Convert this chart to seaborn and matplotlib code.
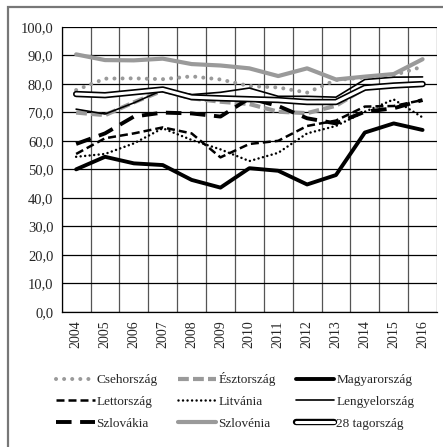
import numpy as np
import pandas as pd
import matplotlib
matplotlib.use("Agg")
import matplotlib.pyplot as plt
import matplotlib.patheffects as pe
from matplotlib.lines import Line2D
from matplotlib.patches import Rectangle
import seaborn as sns

years = list(range(2004, 2017))

csehorszag = [77.8, 81.8, 81.9, 81.6, 82.6, 81.5, 79.2, 78.7, 76.9, 81.3, 82.2, 83.0, 86.0]
esztorszag = [69.9, 69.0, 73.5, 77.6, 74.9, 73.7, 72.9, 70.2, 69.7, 72.3, 78.4, 79.4, 79.6]
magyarorszag = [50.0, 54.4, 52.1, 51.5, 46.3, 43.6, 50.4, 49.5, 44.7, 48.0, 62.9, 66.1, 63.8]
lettorszag = [55.4, 60.9, 62.6, 64.7, 62.6, 54.2, 58.9, 60.0, 65.2, 67.1, 72.0, 72.2, 74.3]
litvania = [54.4, 55.4, 59.1, 64.4, 60.3, 57.0, 52.9, 55.8, 62.6, 65.2, 70.2, 74.5, 68.2]
lengyelorszag = [71.1, 69.4, 73.3, 77.8, 76.2, 77.0, 78.5, 75.6, 75.6, 75.3, 81.5, 82.3, 82.4]
szlovakia = [58.9, 62.6, 68.5, 69.9, 69.6, 68.5, 74.9, 72.2, 67.9, 66.1, 70.2, 71.4, 74.3]
szlovenia = [90.3, 88.3, 88.2, 88.8, 86.9, 86.4, 85.4, 82.7, 85.4, 81.5, 82.5, 83.4, 88.6]
eu28 = [76.4, 76.0, 77.0, 78.0, 75.3, 74.9, 74.6, 74.3, 73.6, 73.6, 78.6, 79.4, 79.9]

gray = "#9a9a9a"
styles = {
    "Csehország": dict(color=gray, lw=2.9, ls=(0, (0.01, 2.0)), dash_capstyle="round"),
    "Észtország": dict(color=gray, lw=3.0, ls=(0, (2.6, 1.0))),
    "Magyarország": dict(color="black", lw=2.8, ls="-"),
    "Lettország": dict(color="black", lw=1.8, ls=(0, (3.2, 1.6))),
    "Litvánia": dict(color="black", lw=1.8, ls=(0, (0.01, 1.8)), dash_capstyle="round"),
    "Lengyelország": dict(color="black", lw=1.2, ls="-"),
    "Szlovákia": dict(color="black", lw=2.8, ls=(0, (4.0, 2.2))),
    "Szlovénia": dict(color=gray, lw=3.0, ls="-"),
}
series = {
    "Csehország": csehorszag,
    "Észtország": esztorszag,
    "Magyarország": magyarorszag,
    "Lettország": lettorszag,
    "Litvánia": litvania,
    "Lengyelország": lengyelorszag,
    "Szlovákia": szlovakia,
    "Szlovénia": szlovenia,
    "28 tagország": eu28,
}

sns.set_style("white")
plt.rcParams["font.family"] = ["Liberation Serif", "DejaVu Serif"]

fig = plt.figure(figsize=(4.43, 4.47), dpi=100)
ax = fig.add_axes([61.7 / 443, 1 - 312 / 447, (437 - 61.7) / 443, (312 - 26.7) / 447])

double_fx = [pe.Stroke(linewidth=4.6, foreground="black"), pe.Normal()]
handles = {}
for name, vals in series.items():
    df = pd.DataFrame({"year": years, "value": vals})
    if name == "28 tagország":
        sns.lineplot(data=df, x="year", y="value", ax=ax, color="white", lw=2.2,
                     path_effects=double_fx, zorder=3)
        handles[name] = Line2D([], [], color="white", lw=2.2, path_effects=double_fx)
    else:
        st = styles[name]
        sns.lineplot(data=df, x="year", y="value", ax=ax, color=st["color"], lw=st["lw"],
                     linestyle=st["ls"], dash_capstyle=st.get("dash_capstyle", "butt"), zorder=3)
        handles[name] = Line2D([], [], color=st["color"], lw=st["lw"], linestyle=st["ls"],
                               dash_capstyle=st.get("dash_capstyle", "butt"))

ax.set_xlim(2003.5, 2016.5)
ax.set_ylim(0, 100)
ax.set_xticks(years)
ax.set_xticklabels([str(y) for y in years], rotation=90, fontsize=10)
ax.set_xticks(np.arange(2003.5, 2017, 1), minor=True)
ax.set_yticks(np.arange(0, 101, 10))
ax.set_yticklabels([f"{v:.1f}".replace(".", ",") for v in np.arange(0, 101, 10)], fontsize=10.5)
ax.tick_params(axis="x", which="major", length=0, pad=6)
ax.tick_params(axis="x", which="minor", length=4, color="black", width=0.8)
ax.tick_params(axis="y", length=4, color="black", width=0.8, pad=2)
ax.grid(axis="y", which="major", color="black", lw=0.9)
ax.grid(axis="x", which="minor", color="#555555", lw=0.9)
ax.set_axisbelow(True)
for s in ["top", "right"]:
    ax.spines[s].set_visible(False)
for s in ["left", "bottom"]:
    ax.spines[s].set_color("black")
    ax.spines[s].set_linewidth(0.9)
ax.set_xlabel("")
ax.set_ylabel("")

order = ["Csehország", "Lettország", "Szlovákia",
         "Észtország", "Litvánia", "Szlovénia",
         "Magyarország", "Lengyelország", "28 tagország"]
fig.legend([handles[n] for n in order], order, ncol=3, loc="upper left",
           bbox_to_anchor=(51 / 443, 1 - 367 / 447), frameon=False, fontsize=9.5,
           handlelength=2.9, handletextpad=0.15, columnspacing=1.55, labelspacing=0.72,
           borderaxespad=0)

fig.patches.append(Rectangle((8 / 443, -0.05), 1.0, 1 - 7 / 447 + 0.05, transform=fig.transFigure,
                             fill=False, edgecolor="#777777", lw=1.6))

fig.savefig("out.png", dpi=100)
